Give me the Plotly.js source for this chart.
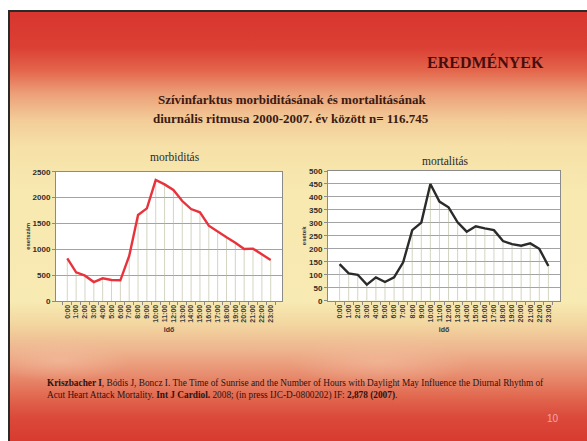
<!DOCTYPE html>
<html>
<head>
<meta charset="utf-8">
<script src="https://cdn.plot.ly/plotly-3.0.1.min.js"></script>
<style>
  html, body { margin: 0; padding: 0; background: #ffffff; }
  #wrap { position: relative; width: 587px; height: 441px; overflow: hidden; }
  #slide {
    position: absolute; left: 8px; top: 10px; width: 579px; height: 431px;
    border-top: 2px solid #2a2a2a; border-left: 2px solid #2a2a2a; box-sizing: border-box;
    background:
      radial-gradient(ellipse 70px 22px at 50px 348px, rgba(245,195,165,0.55), rgba(245,195,165,0) 100%),
      radial-gradient(ellipse 90px 26px at 370px 350px, rgba(245,195,165,0.5), rgba(245,195,165,0) 100%),
      linear-gradient(to bottom, #d8362e 0px, #db3f34 35px, #e3644b 58px, #eca079 82px, #f3cc98 108px, #f6e1a8 135px, #f7e9b0 180px, #f7eab2 290px, #f3d6a0 312px, #eeb48e 338px, #e88e70 362px, #e1684f 385px, #db4a3b 405px, #d8392f 431px);
  }
  #chart { position: absolute; left: 0; top: 0; width: 587px; height: 441px; }
</style>
</head>
<body>
<div id="wrap">
  <div id="slide"></div>
  <div id="chart"></div>
</div>
<script>
// ---- data ----
const hours = ["0:00","1:00","2:00","3:00","4:00","5:00","6:00","7:00","8:00","9:00","10:00","11:00",
               "12:00","13:00","14:00","15:00","16:00","17:00","18:00","19:00","20:00","21:00","22:00","23:00"];
const morbiditas = [825, 554, 490, 367, 438, 406, 400, 870, 1662, 1791, 2339, 2255,
                    2146, 1933, 1778, 1714, 1456, 1340, 1231, 1128, 1005, 1012, 902, 792];
const mortalitas = [141, 105, 100, 62, 90, 72, 90, 148, 272, 301, 450, 382,
                    360, 302, 266, 287, 279, 272, 230, 218, 212, 221, 200, 134];
const morbTicks = [0, 500, 1000, 1500, 2000, 2500];
const mortTicks = [0, 50, 100, 150, 200, 250, 300, 350, 400, 450, 500];

const W = 587, H = 441;
const px = x => x / W;
const py = y => 1 - y / H;

const serif = "Liberation Serif, Times New Roman, serif";
const tickFont = {family: "Liberation Sans Narrow, Arial Narrow, Liberation Sans, sans-serif", size: 8, color: "#2e2e2e", weight: 700};
const xTickFont = {family: "Liberation Sans, Arial, sans-serif", size: 7, color: "#3a3a3a", weight: 700};

function dropZeros(arr) { return arr.map(() => 0); }

const traces = [
  {
    x: hours, y: morbiditas, type: "scatter", mode: "lines",
    line: {color: "#e8333c", width: 2.4},
    error_y: {type: "data", symmetric: false, array: dropZeros(morbiditas), arrayminus: morbiditas,
              width: 0, thickness: 0.6, color: "#b5b99a"},
    xaxis: "x", yaxis: "y", hoverinfo: "skip"
  },
  {
    x: hours, y: mortalitas, type: "scatter", mode: "lines",
    line: {color: "#2b2b2b", width: 2.4},
    error_y: {type: "data", symmetric: false, array: dropZeros(mortalitas), arrayminus: mortalitas,
              width: 0, thickness: 0.6, color: "#b5b99a"},
    xaxis: "x2", yaxis: "y2", hoverinfo: "skip"
  }
];

const xCommon = {
  type: "category", showgrid: false, showline: true, linecolor: "#8a8a8a", linewidth: 1, mirror: true,
  ticks: "outside", ticklen: 3, tickcolor: "#8a8a8a", tickson: "boundaries",
  tickangle: -90, tickfont: xTickFont, zeroline: false, fixedrange: true,
  title: {text: "<b>idő</b>", font: {family: "Liberation Sans, Arial, sans-serif", size: 7, color: "#333"}, standoff: 5}
};
const yCommon = {
  showgrid: true, gridcolor: "#8c8c8c", gridwidth: 0.8, showline: true, linecolor: "#8a8a8a", linewidth: 1, mirror: true,
  ticks: "outside", ticklen: 3, tickcolor: "#8a8a8a", tickfont: tickFont, zeroline: false, fixedrange: true
};

const layout = {
  width: W, height: H,
  margin: {l: 0, r: 0, t: 0, b: 0},
  paper_bgcolor: "rgba(0,0,0,0)",
  plot_bgcolor: "#ffffff",
  showlegend: false,
  xaxis: Object.assign({}, xCommon, {domain: [px(56), px(282)], anchor: "y"}),
  yaxis: Object.assign({}, yCommon, {domain: [py(301), py(171.7)], anchor: "x", range: [0, 2500],
          tickvals: morbTicks, ticktext: morbTicks.map(String),
          title: {text: "<b>esetszám</b>", font: {family: "Liberation Sans, Arial, sans-serif", size: 6, color: "#333"}, standoff: 1}}),
  xaxis2: Object.assign({}, xCommon, {domain: [px(328), px(560)], anchor: "y2"}),
  yaxis2: Object.assign({}, yCommon, {domain: [py(300.7), py(171)], anchor: "x2", range: [0, 500],
          tickvals: mortTicks, ticktext: mortTicks.map(String),
          title: {text: "<b>esetek</b>", font: {family: "Liberation Sans, Arial, sans-serif", size: 6, color: "#333"}, standoff: 1}}),
  annotations: [
    {text: "<b>EREDMÉNYEK</b>", xref: "paper", yref: "paper", x: px(546), y: py(62), xanchor: "right", yanchor: "middle",
     showarrow: false, font: {family: serif, size: 16, color: "#4a0d0d"}},
    {text: "<b>Szívinfarktus morbiditásának és mortalitásának</b>", xref: "paper", yref: "paper", x: px(292), y: py(100),
     xanchor: "center", yanchor: "middle", showarrow: false,
     font: {family: serif, size: 13, color: "#3b1a12"}},
    {text: "<b>diurnális ritmusa 2000-2007. év között n= 116.745</b>", xref: "paper", yref: "paper", x: px(291), y: py(118),
     xanchor: "center", yanchor: "middle", showarrow: false,
     font: {family: serif, size: 13, color: "#3b1a12"}},
    {text: "morbiditás", xref: "paper", yref: "paper", x: px(175), y: py(157), xanchor: "center", yanchor: "middle",
     showarrow: false, font: {family: "Liberation Serif", size: 11.5, color: "#2a2a2a"}},
    {text: "mortalitás", xref: "paper", yref: "paper", x: px(445), y: py(161), xanchor: "center", yanchor: "middle",
     showarrow: false, font: {family: "Liberation Serif", size: 11.5, color: "#2a2a2a"}},
    {text: "<b>Kriszbacher I</b>, Bódis J, Boncz I. The Time of Sunrise and the Number of Hours with Daylight May Influence the Diurnal Rhythm of",
     xref: "paper", yref: "paper", x: px(45), y: py(383), xanchor: "left", yanchor: "middle", showarrow: false,
     font: {family: serif, size: 9.3, color: "#2a1410"}},
    {text: "Acut Heart Attack Mortality. <b>Int J Cardiol.</b> 2008; (in press IJC-D-0800202) IF: <b>2,878 (2007)</b>.",
     xref: "paper", yref: "paper", x: px(45), y: py(395), xanchor: "left", yanchor: "middle", showarrow: false,
     font: {family: serif, size: 9.3, color: "#2a1410"}},
    {text: "10", xref: "paper", yref: "paper", x: px(553), y: py(418), xanchor: "center", yanchor: "middle", showarrow: false,
     font: {family: "Liberation Sans, Arial, sans-serif", size: 10, color: "#f4a6a6"}}
  ]
};

Plotly.newPlot("chart", traces, layout, {staticPlot: true, displayModeBar: false});
</script>
</body>
</html>
